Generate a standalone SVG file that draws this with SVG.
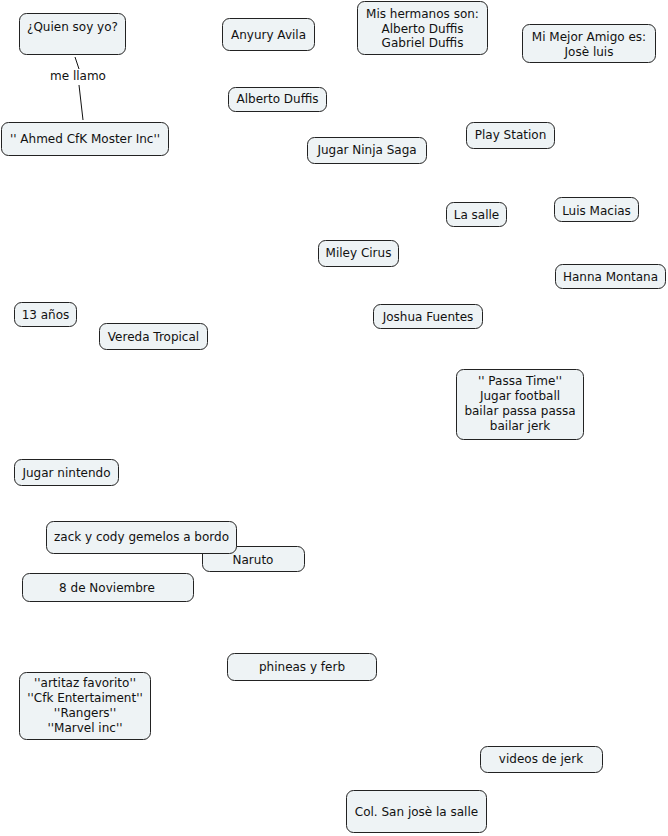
<svg xmlns="http://www.w3.org/2000/svg" width="668" height="836" viewBox="0 0 668 836">
<style>
.n rect{fill:#eef3f5;stroke:#222;stroke-width:1}
text{font-family:"DejaVu Sans",Verdana,sans-serif;font-size:12px;fill:#111;text-anchor:middle}
.c line{stroke:#111;stroke-width:1}
</style>
<rect width="668" height="836" fill="#fff"/>
<g class="c" id="connectors">
<line x1="75" y1="57" x2="79" y2="69"/>
<line x1="79" y1="85" x2="83" y2="120"/>
<text x="78" y="80">me llamo</text>
</g>
<g class="n" id="n1"><rect x="19.5" y="13.5" width="106" height="41" rx="7"/><text x="72.5" y="31">¿Quien soy yo?</text></g>
<g class="n" id="n2"><rect x="1.5" y="122.5" width="167" height="33" rx="7"/><text x="85" y="143">'' Ahmed CfK Moster Inc''</text></g>
<g class="n" id="n3"><rect x="222.5" y="18.5" width="92" height="32" rx="7"/><text x="268.5" y="39">Anyury Avila</text></g>
<g class="n" id="n4"><rect x="228.5" y="87.5" width="98" height="24" rx="7"/><text x="277.5" y="103">Alberto Duffis</text></g>
<g class="n" id="n5"><rect x="307.5" y="137.5" width="119" height="26" rx="7"/><text x="367" y="154">Jugar Ninja Saga</text></g>
<g class="n" id="n6"><rect x="357.5" y="1.5" width="130" height="53" rx="7"/><text x="422.5" y="18">Mis hermanos son:</text><text x="422.5" y="33">Alberto Duffis</text><text x="422.5" y="47">Gabriel Duffis</text></g>
<g class="n" id="n7"><rect x="522.5" y="24.5" width="133" height="38" rx="7"/><text x="589" y="41">Mi Mejor Amigo es:</text><text x="589" y="56">Josè luis</text></g>
<g class="n" id="n8"><rect x="466.5" y="122.5" width="88" height="26" rx="7"/><text x="510.5" y="139">Play Station</text></g>
<g class="n" id="n9"><rect x="446.5" y="202.5" width="60" height="24" rx="7"/><text x="476.5" y="219">La salle</text></g>
<g class="n" id="n10"><rect x="554.5" y="197.5" width="84" height="24" rx="7"/><text x="596.5" y="215">Luis Macias</text></g>
<g class="n" id="n11"><rect x="318.5" y="240.5" width="80" height="26" rx="7"/><text x="358.5" y="257">Miley Cirus</text></g>
<g class="n" id="n12"><rect x="555.5" y="264.5" width="110" height="24" rx="7"/><text x="610.5" y="281">Hanna Montana</text></g>
<g class="n" id="n13"><rect x="373.5" y="304.5" width="109" height="24" rx="7"/><text x="428" y="321">Joshua Fuentes</text></g>
<g class="n" id="n14"><rect x="14.5" y="302.5" width="62" height="24" rx="7"/><text x="45.5" y="319">13 años</text></g>
<g class="n" id="n15"><rect x="99.5" y="323.5" width="108" height="26" rx="7"/><text x="153.5" y="341">Vereda Tropical</text></g>
<g class="n" id="n16"><rect x="456.5" y="369.5" width="127" height="70" rx="7"/><text x="520" y="385">'' Passa Time''</text><text x="520" y="400">Jugar football</text><text x="520" y="415">bailar passa passa</text><text x="520" y="430">bailar jerk</text></g>
<g class="n" id="n17"><rect x="14.5" y="459.5" width="104" height="26" rx="7"/><text x="66.5" y="477">Jugar nintendo</text></g>
<g class="n" id="n18"><rect x="202.5" y="546.5" width="102" height="25" rx="7"/><text x="253" y="564">Naruto</text></g>
<g class="n" id="n19"><rect x="46.5" y="521.5" width="190" height="32" rx="7"/><text x="141.5" y="541">zack y cody gemelos a bordo</text></g>
<g class="n" id="n20"><rect x="22.5" y="573.5" width="171" height="28" rx="7"/><text x="107" y="592">8 de Noviembre</text></g>
<g class="n" id="n21"><rect x="227.5" y="653.5" width="149" height="27" rx="7"/><text x="302" y="671">phineas y ferb</text></g>
<g class="n" id="n22"><rect x="19.5" y="672.5" width="131" height="67" rx="7"/><text x="85" y="687">''artitaz favorito''</text><text x="85" y="702">''Cfk Entertaiment''</text><text x="85" y="717">''Rangers''</text><text x="85" y="732">''Marvel inc''</text></g>
<g class="n" id="n23"><rect x="480.5" y="746.5" width="122" height="26" rx="7"/><text x="541" y="763">videos de jerk</text></g>
<g class="n" id="n24"><rect x="346.5" y="790.5" width="140" height="42" rx="7"/><text x="416.5" y="816">Col. San josè la salle</text></g>
</svg>
